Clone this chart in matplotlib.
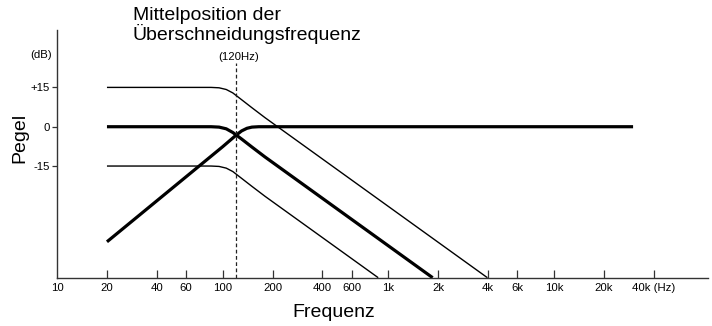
import matplotlib
matplotlib.use("Agg")
import matplotlib.pyplot as plt

plt.rcParams['font.family'] = ['Liberation Sans', 'DejaVu Sans']

# ---- data (frequency in Hz, level in dB) ----
hi_freq = [20, 85, 95, 105, 115, 130, 150, 180, 3960]
hi_level = [15, 15, 14.85, 14.2, 12.9, 10.3, 7.25, 3.45, -57.6]

lp_freq = [20, 85, 95, 105, 115, 130, 150, 180, 1850]
lp_level = [0, 0, -0.15, -0.8, -2.2, -4.7, -7.75, -11.55, -57.6]

lo_freq = [20, 85, 95, 105, 115, 130, 150, 180, 868]
lo_level = [-15, -15, -15.15, -15.8, -17.1, -19.7, -22.75, -26.55, -57.6]

hp_freq = [20, 100, 120, 130, 140, 150, 165, 30000]
hp_level = [-43.9, -7.6, -3.3, -1.6, -0.6, -0.15, 0, 0]

crossover = 120

x_ticks = [10, 20, 40, 60, 100, 200, 400, 600, 1000, 2000, 4000, 6000, 10000, 20000, 40000]
x_labels = ["10", "20", "40", "60", "100", "200", "400", "600", "1k", "2k", "4k", "6k", "10k", "20k", "40k (Hz)"]
y_ticks = [15, 0, -15]
y_labels = ["+15", "0", "-15"]

W, H = 712, 326
fig = plt.figure(figsize=(W / 100, H / 100), dpi=100)
ax = fig.add_axes([57.1 / W, 1 - 277.7 / H, (708 - 57.1) / W, (277.7 - 30) / H])

ax.set_xscale('log')
ax.set_xlim(10, 85000)
ax.set_ylim(-57.6, 36.9)

ax.plot(hi_freq, hi_level, color='black', lw=1.0, solid_capstyle='butt')
ax.plot(lo_freq, lo_level, color='black', lw=1.0, solid_capstyle='butt')
ax.plot(lp_freq, lp_level, color='black', lw=2.3, solid_capstyle='butt')
ax.plot(hp_freq, hp_level, color='black', lw=2.3, solid_capstyle='butt')

ax.axvline(crossover, ymin=0, ymax=(1 - (63 - 30) / (277.7 - 30)), color='#222222',
           lw=0.9, linestyle=(0, (3, 2)))

for s in ['top', 'right']:
    ax.spines[s].set_visible(False)
for s in ['left', 'bottom']:
    ax.spines[s].set_color('#333333')
    ax.spines[s].set_linewidth(1.0)

ax.xaxis.set_minor_locator(matplotlib.ticker.NullLocator())
ax.set_xticks(x_ticks)
ax.set_xticklabels(x_labels)
ax.tick_params(axis='x', direction='in', length=5.5, width=0.9, pad=4.0,
               labelsize=8.2, colors='#333333', labelcolor='black')
ax.set_yticks(y_ticks)
ax.set_yticklabels(y_labels)
ax.tick_params(axis='y', direction='out', length=3.6, width=0.9, pad=1.5,
               labelsize=8.2, colors='#333333', labelcolor='black')
# hide the tick at 10 Hz (coincides with spine)
ax.xaxis.get_major_ticks()[0].tick1line.set_visible(False)

def ftext(x, y, s, **kw):
    return fig.text(x / W, 1 - y / H, s, **kw)

ftext(52, 58, "(dB)", ha='right', va='baseline', fontsize=8.2)
ftext(239, 60.5, "(120Hz)", ha='center', va='baseline', fontsize=8.2)
ftext(133, 6.5, "Mittelposition der\nÜberschneidungsfrequenz", ha='left', va='top',
      fontsize=14, linespacing=1.02)
ftext(334, 316.7, "Frequenz", ha='center', va='baseline', fontsize=14)
ftext(20, 138, "Pegel", ha='center', va='center', fontsize=14, rotation=90)

fig.savefig('out.png', dpi=100)
